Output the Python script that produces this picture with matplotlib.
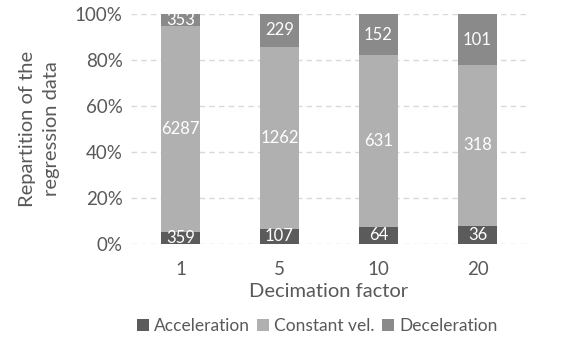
import matplotlib
matplotlib.use("Agg")
import matplotlib.pyplot as plt
from matplotlib.ticker import PercentFormatter
import numpy as np

plt.rcParams['font.family'] = ['Lato', 'DejaVu Sans']

factors = ["1", "5", "10", "20"]
acceleration = [359, 107, 64, 36]
constant_vel = [6287, 1262, 631, 318]
deceleration = [353, 229, 152, 101]

series = [
    ("Acceleration", acceleration, "#5b5b5b"),
    ("Constant vel.", constant_vel, "#b0b0b0"),
    ("Deceleration", deceleration, "#8a8a8a"),
]

totals = np.array(acceleration) + np.array(constant_vel) + np.array(deceleration)
x = np.arange(len(factors))

fig = plt.figure(figsize=(5.78, 3.37), dpi=100)
ax = fig.add_axes([131 / 578, 1 - 244 / 337, (527 - 131) / 578, (244 - 14) / 337])

bottom = np.zeros(len(factors))
for name, vals, color in series:
    frac = np.array(vals) / totals * 100
    ax.bar(x, frac, width=0.4, bottom=bottom, color=color, label=name, zorder=3)
    for xi, b, f, v in zip(x, bottom, frac, vals):
        ax.text(xi, b + f / 2, str(v), ha="center", va="center",
                color="white", fontsize=12, zorder=4, clip_on=True)
    bottom += frac

ax.set_xlim(-0.5, 3.5)
ax.set_ylim(0, 100)
ax.set_yticks(np.arange(0, 101, 20))
ax.yaxis.set_major_formatter(PercentFormatter(decimals=0))
ax.set_xticks(x)
ax.set_xticklabels(factors)
ax.grid(axis="y", color="#d9d9d9", linestyle=(0, (4, 3)), linewidth=1, zorder=0)
for s in ax.spines.values():
    s.set_visible(False)
ax.tick_params(axis="both", length=0, colors="#595959", labelsize=13.5)
ax.tick_params(axis="x", pad=12)
ax.tick_params(axis="y", pad=6)

ax.set_xlabel("Decimation factor", fontsize=14.5, color="#595959", labelpad=4)
ax.set_ylabel("Repartition of the\nregression data", fontsize=14.5, color="#595959",
              labelpad=11, linespacing=1.45)

ax.legend(loc="upper center", bbox_to_anchor=(0.47, -0.255), ncol=3, frameon=False,
          fontsize=12.5, handlelength=0.7, handleheight=0.7, handletextpad=0.3,
          columnspacing=0.4, labelcolor="#595959")

fig.savefig("out.png", dpi=100)
